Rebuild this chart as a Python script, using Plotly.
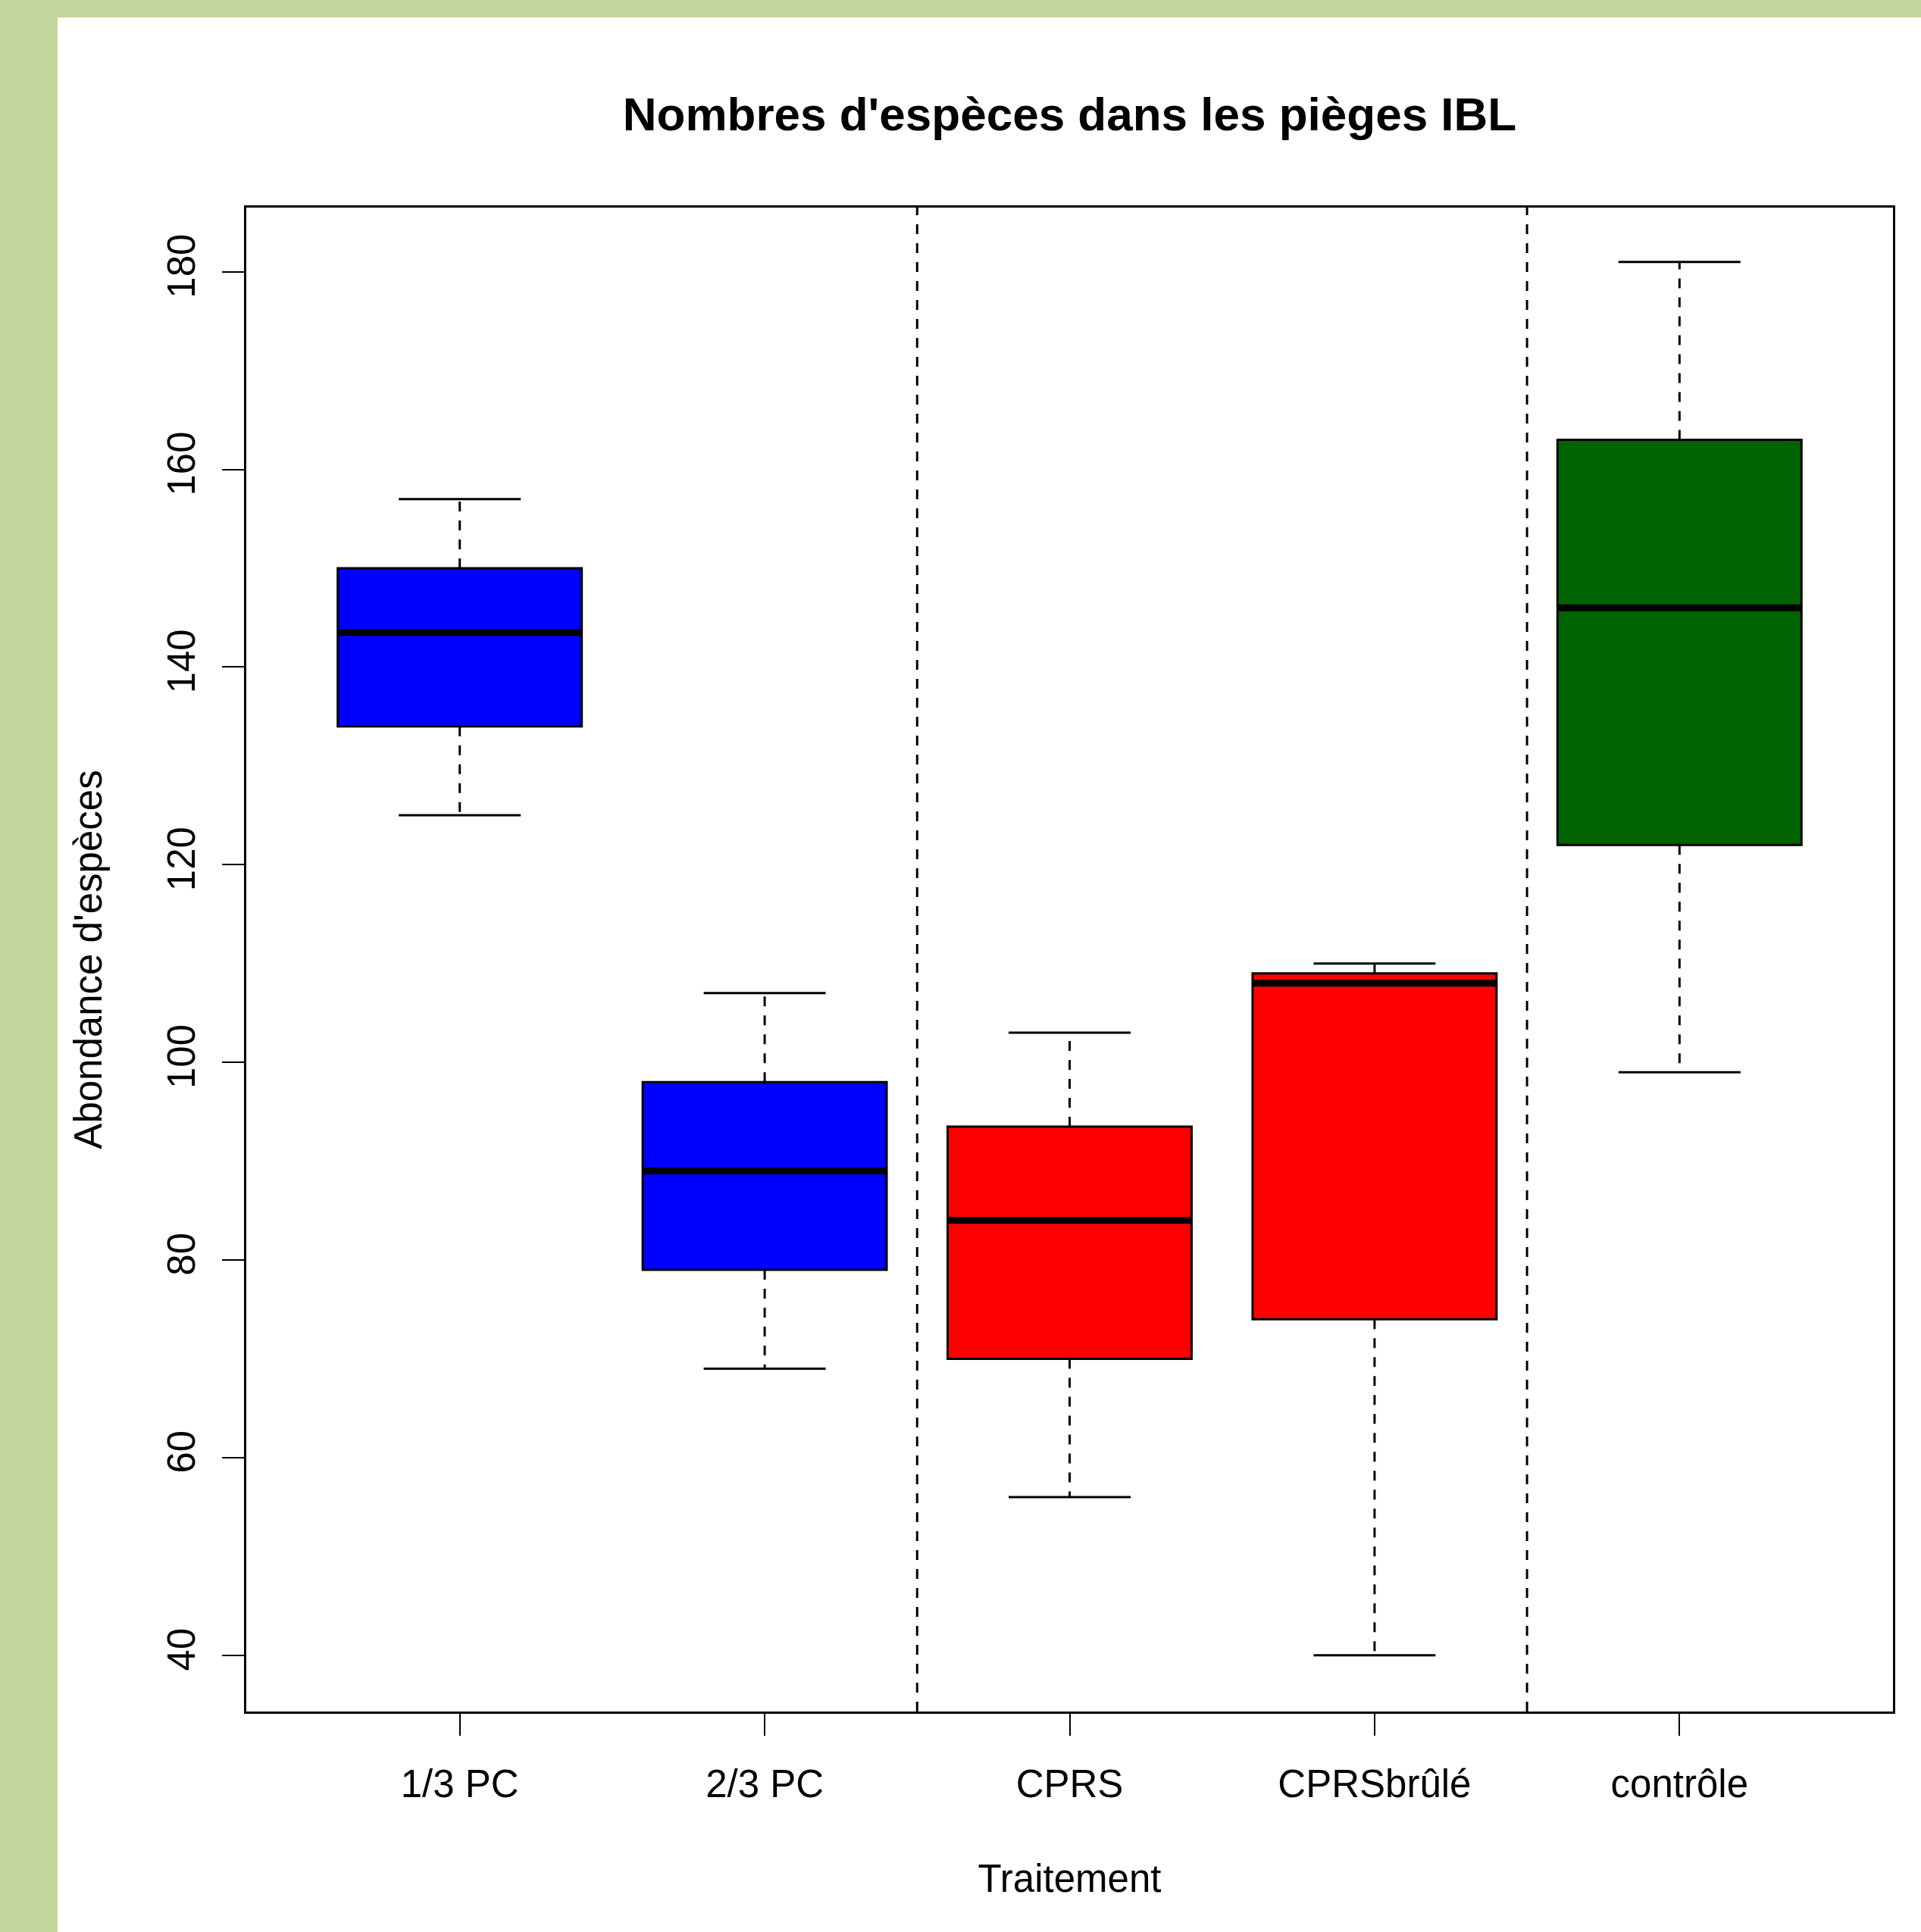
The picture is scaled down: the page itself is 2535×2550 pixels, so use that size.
import plotly.graph_objects as go

# ---- data ----
categories = ["1/3 PC", "2/3 PC", "CPRS", "CPRSbrûlé", "contrôle"]
positions = [1, 2, 3, 4, 5]
lower_whisker = [125, 69, 56, 40, 99]
q1_values = [134, 79, 70, 74, 122]
median_values = [143.5, 89, 84, 108, 146]
q3_values = [150, 98, 93.5, 109, 163]
upper_whisker = [157, 107, 103, 110, 181]
fill_colors = ["#0000FF", "#0000FF", "#FF0000", "#FF0000", "#006400"]
separators = [2.5, 4.5]
y_ticks = [40, 60, 80, 100, 120, 140, 160, 180]

# ---- style / layout constants ----
W, H = 2535, 2550
ML, MR, MT, MB = 325, 37, 274, 291
BOX_W = 0.8
CAP_W = 0.4
FONT = "Liberation Sans, Arial, sans-serif"
BASE = 51

fig = go.Figure()

for p, lo, q1, med, q3, hi, col in zip(positions, lower_whisker, q1_values,
                                         median_values, q3_values, upper_whisker, fill_colors):
    # dashed whiskers
    fig.add_trace(go.Scatter(
        x=[p, p, None, p, p], y=[q3, hi, None, q1, lo], mode="lines",
        line=dict(color="black", width=3, dash="13px,12px"),
        showlegend=False, hoverinfo="skip"))
    # whisker caps
    fig.add_trace(go.Scatter(
        x=[p - CAP_W / 2, p + CAP_W / 2, None, p - CAP_W / 2, p + CAP_W / 2],
        y=[hi, hi, None, lo, lo], mode="lines",
        line=dict(color="black", width=3),
        showlegend=False, hoverinfo="skip"))
    # box
    fig.add_trace(go.Box(
        x=[p], q1=[q1], median=[med], q3=[q3], lowerfence=[q1], upperfence=[q3],
        width=BOX_W, whiskerwidth=0, fillcolor=col,
        line=dict(color="black", width=3), boxpoints=False,
        showlegend=False))
    # thick median
    fig.add_trace(go.Scatter(
        x=[p - BOX_W / 2, p + BOX_W / 2], y=[med, med], mode="lines",
        line=dict(color="black", width=9),
        showlegend=False, hoverinfo="skip"))

shapes = []
for s in separators:
    shapes.append(dict(type="line", xref="x", yref="paper", x0=s, x1=s, y0=0, y1=1,
                       line=dict(color="black", width=3, dash="13px,12px")))

# white panel over green page background
pw, ph = W - ML - MR, H - MT - MB
def px_x(px):
    return (px - ML) / pw
def px_y(py):
    return (H - MB - py) / ph
shapes.append(dict(type="rect", xref="paper", yref="paper", layer="below",
                   x0=px_x(76), x1=px_x(W + 50), y0=px_y(H + 50), y1=px_y(23),
                   fillcolor="white", line=dict(width=0)))

fig.update_layout(
    width=W, height=H,
    margin=dict(l=ML, r=MR, t=MT, b=MB, autoexpand=False),
    paper_bgcolor="#C4D69C", plot_bgcolor="white",
    font=dict(family=FONT, size=BASE, color="black"),
    title=dict(text="<b>Nombres d'espèces dans les pièges IBL</b>",
               x=0.5, xref="paper",
               y=1 - 150 / H, yref="container", yanchor="middle", xanchor="center",
               font=dict(size=62, family=FONT, color="black")),
    shapes=shapes,
    showlegend=False,
)

fig.update_xaxes(
    range=[0.3, 5.7], tickmode="array", tickvals=positions, ticktext=categories,
    showline=True, linecolor="black", linewidth=3, mirror=True,
    ticks="outside", ticklen=29, tickwidth=2, tickcolor="black",
    showgrid=False, zeroline=False, ticklabelstandoff=20,
    title=dict(text="Traitement", standoff=80, font=dict(size=BASE)),
)
fig.update_yaxes(
    range=[34.3, 186.5], tickmode="array", tickvals=y_ticks,
    showline=True, linecolor="black", linewidth=3, mirror=True,
    ticks="outside", ticklen=29, tickwidth=2, tickcolor="black",
    showgrid=False, zeroline=False, tickangle=-90, ticklabelstandoff=16,
    title=dict(text="Abondance d'espèces", standoff=60, font=dict(size=BASE)),
)

fig.write_html("out.html", config={"displayModeBar": False},
               post_script="document.body.style.margin='0';document.body.style.overflow='hidden';")
